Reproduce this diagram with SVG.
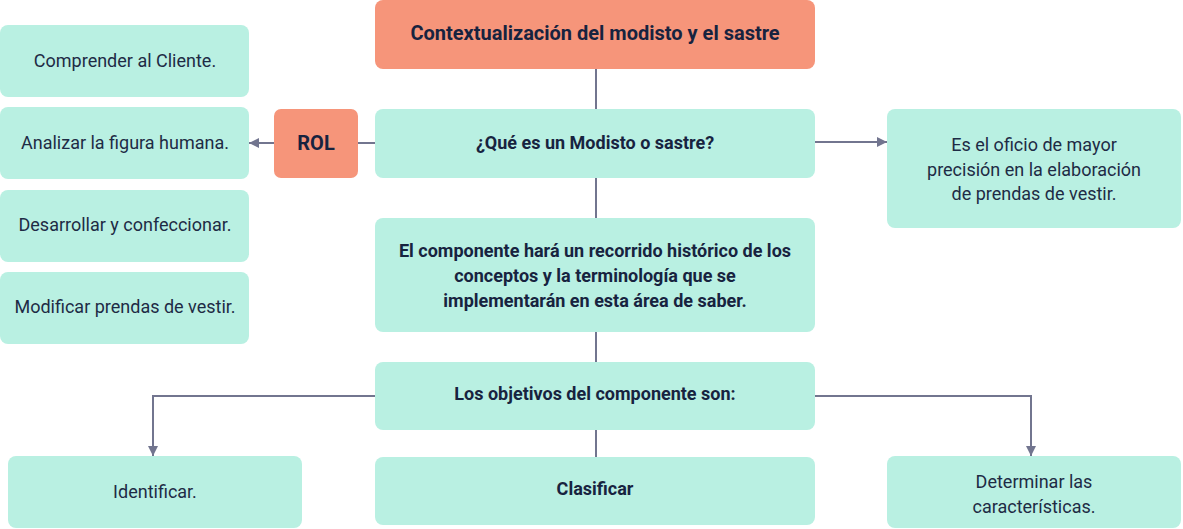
<svg xmlns="http://www.w3.org/2000/svg" width="1183" height="529" viewBox="0 0 1183 529">
<defs>
<style>
.o{fill:#F6957A}
.t{fill:#B9F0E2}
.b{font-family:Roboto,"Liberation Sans",sans-serif;font-weight:700;fill:#17233F;text-anchor:middle;font-size:18px}
.r{font-family:Roboto,"Liberation Sans",sans-serif;font-weight:400;fill:#1E2B45;text-anchor:middle;font-size:18px}
.big{font-size:20px}
.c{stroke:#72758F;stroke-width:2;fill:none}
</style>
<marker id="ah" viewBox="0 0 10 10" refX="10" refY="5" markerWidth="10" markerHeight="10" markerUnits="userSpaceOnUse" orient="auto">
<path d="M0,0 L10,5 L0,10 Z" fill="#72758F"/>
</marker>
</defs>
<rect width="1183" height="529" fill="#fff"/>
<g id="connectors">
<path class="c" d="M596,69 V109"/>
<path class="c" d="M596,178 V218"/>
<path class="c" d="M596,332 V362"/>
<path class="c" d="M596,430 V457"/>
<path class="c" d="M375,143 H358"/>
<path class="c" d="M274,143 H249" marker-end="url(#ah)"/>
<path class="c" d="M815,142 H887" marker-end="url(#ah)"/>
<path class="c" d="M375,396 H153 V456" marker-end="url(#ah)"/>
<path class="c" d="M815,396 H1031 V456" marker-end="url(#ah)"/>
</g>
<g id="title"><rect class="o" x="375" y="0" width="440" height="69" rx="8"/><text class="b big" x="595" y="40">Contextualización del modisto y el sastre</text></g>
<g id="que"><rect class="t" x="375" y="109" width="440" height="69" rx="8"/><text class="b" x="595" y="149">¿Qué es un Modisto o sastre?</text></g>
<g id="rol"><rect class="o" x="274" y="109" width="84" height="69" rx="7"/><text class="b big" x="316" y="150">ROL</text></g>
<g id="comprender"><rect class="t" x="0" y="25" width="249" height="72" rx="8"/><text class="r" x="125" y="67">Comprender al Cliente.</text></g>
<g id="analizar"><rect class="t" x="0" y="107" width="249" height="72" rx="8"/><text class="r" x="125" y="149">Analizar la figura humana.</text></g>
<g id="desarrollar"><rect class="t" x="0" y="190" width="249" height="72" rx="8"/><text class="r" x="125" y="231">Desarrollar y confeccionar.</text></g>
<g id="modificar"><rect class="t" x="0" y="272" width="249" height="72" rx="8"/><text class="r" x="125" y="313">Modificar prendas de vestir.</text></g>
<g id="oficio"><rect class="t" x="887" y="109" width="294" height="119" rx="8"/><text class="r" x="1034" y="151">Es el oficio de mayor</text><text class="r" x="1034" y="176">precisión en la elaboración</text><text class="r" x="1034" y="200">de prendas de vestir.</text></g>
<g id="componente"><rect class="t" x="375" y="218" width="440" height="114" rx="8"/><text class="b" x="595" y="257">El componente hará un recorrido histórico de los</text><text class="b" x="595" y="282">conceptos y la terminología que se</text><text class="b" x="595" y="307">implementarán en esta área de saber.</text></g>
<g id="objetivos"><rect class="t" x="375" y="362" width="440" height="68" rx="8"/><text class="b" x="595" y="400">Los objetivos del componente son:</text></g>
<g id="identificar"><rect class="t" x="8" y="456" width="294" height="72" rx="8"/><text class="r" x="155" y="498">Identificar.</text></g>
<g id="clasificar"><rect class="t" x="375" y="457" width="440" height="68" rx="8"/><text class="b" x="595" y="495">Clasificar</text></g>
<g id="determinar"><rect class="t" x="887" y="456" width="294" height="72" rx="8"/><text class="r" x="1034" y="488">Determinar las</text><text class="r" x="1034" y="513">características.</text></g>
</svg>
